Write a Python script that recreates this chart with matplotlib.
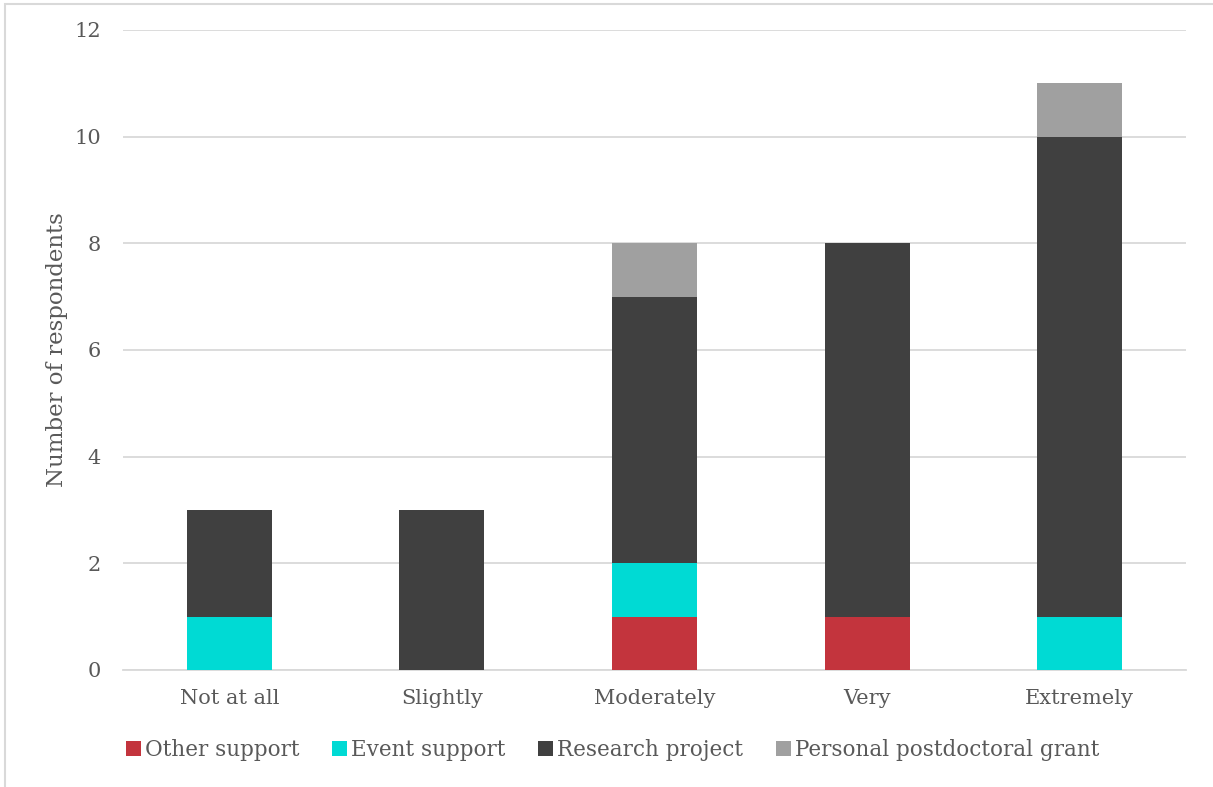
import numpy as np
import matplotlib.pyplot as plt
from matplotlib.patches import Rectangle

categories = ['Not at all', 'Slightly', 'Moderately', 'Very', 'Extremely']
other_support = [0, 0, 1, 1, 0]
event_support = [1, 0, 1, 0, 1]
research_project = [2, 3, 5, 7, 9]
postdoc_grant = [0, 0, 1, 0, 1]

series = [('Other support', other_support, '#C3343D'),
          ('Event support', event_support, '#00DAD4'),
          ('Research project', research_project, '#404040'),
          ('Personal postdoctoral grant', postdoc_grant, '#A0A0A0')]

txt = '#595959'
plt.rcParams['font.family'] = ['DejaVu Serif']

fig = plt.figure(figsize=(12.13, 7.87), dpi=100)
ax = fig.add_axes([0.1014, 0.1487, 0.8763, 0.8132])

x = np.arange(len(categories))
bottom = np.zeros(len(categories))
handles = []
for name, vals, col in series:
    vals = np.array(vals, dtype=float)
    b = ax.bar(x, vals, 0.4, bottom=bottom, color=col, label=name, zorder=3)
    handles.append(b)
    bottom += vals

ax.set_xlim(-0.5, 4.5)
ax.set_ylim(0, 12)
ax.set_yticks(range(0, 13, 2))
ax.set_xticks(x)
ax.set_xticklabels(categories)
ax.tick_params(axis='both', length=0, colors=txt, labelsize=15)
ax.tick_params(axis='y', pad=16)
ax.tick_params(axis='x', pad=14)
ax.grid(axis='y', color='#D9D9D9', linewidth=1.3, zorder=0)
for s in ['top', 'right', 'left']:
    ax.spines[s].set_visible(False)
ax.spines['bottom'].set_color('#D9D9D9')
ax.spines['bottom'].set_linewidth(1.3)
ax.set_ylabel('Number of respondents', color=txt, fontsize=16.5, labelpad=4)

fig.legend(handles=handles, loc='center', bbox_to_anchor=(0.505, 0.047), ncol=4,
           frameon=False, fontsize=15.5, labelcolor=txt, handlelength=0.7,
           handleheight=0.7, handletextpad=0.2, columnspacing=1.5)

fig.patches.append(Rectangle((0.004, -0.01), 1.1, 1.005, transform=fig.transFigure,
                             fill=False, edgecolor='#D9D9D9', linewidth=1.5))

fig.savefig('out.png', dpi=100)
